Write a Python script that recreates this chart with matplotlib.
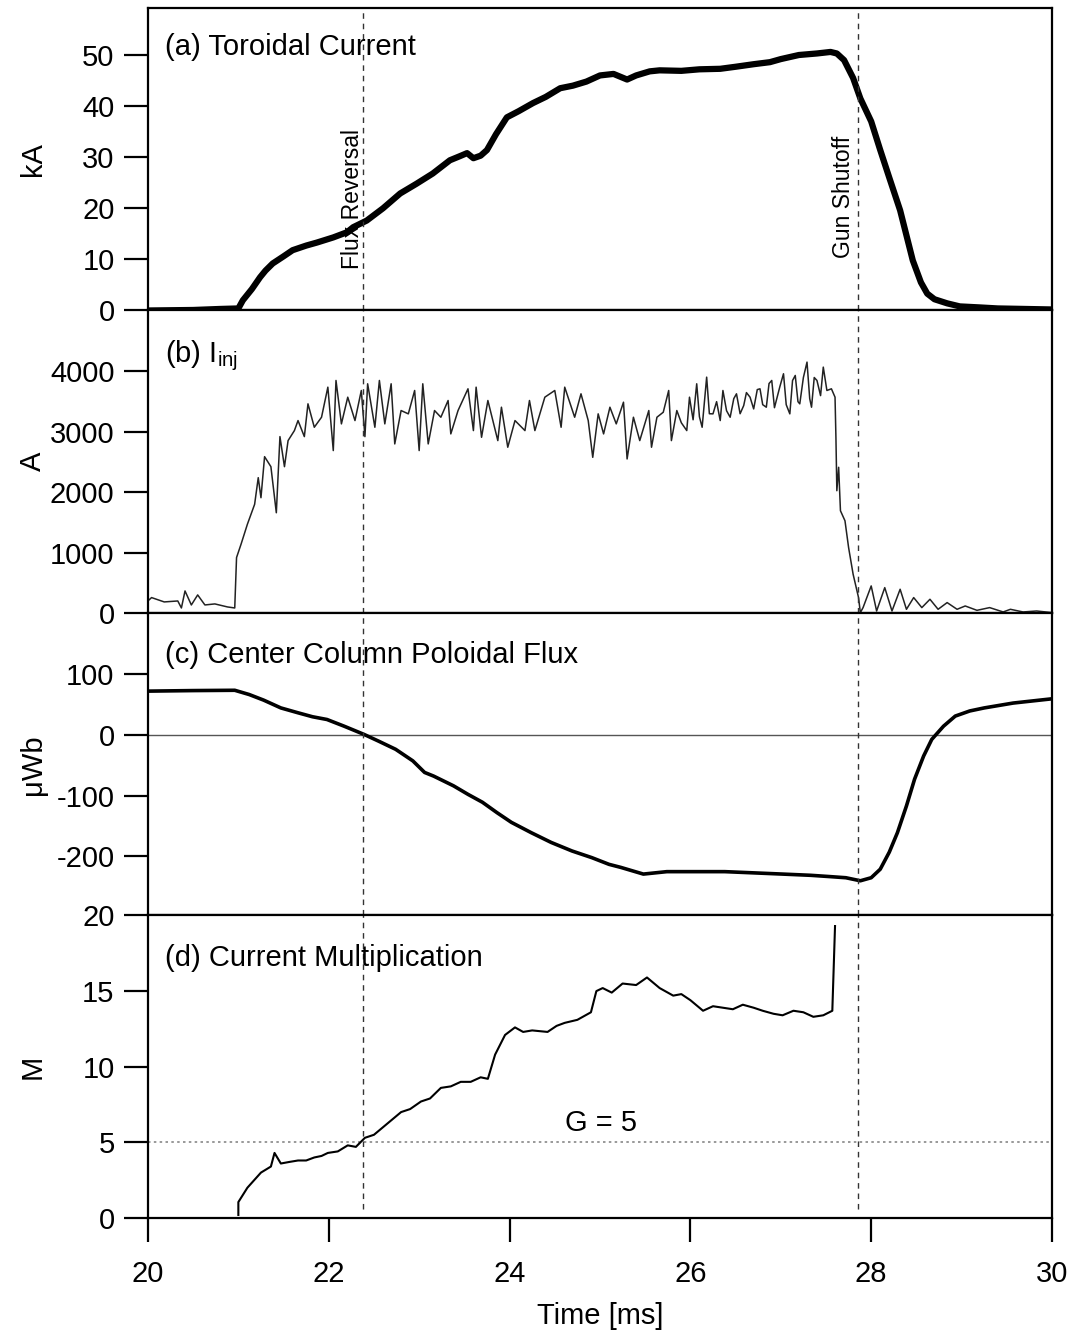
import matplotlib
matplotlib.use('Agg')
import matplotlib.pyplot as plt

plt.rcParams['font.family'] = ['Liberation Sans', 'DejaVu Sans']
plt.rcParams['mathtext.fontset'] = 'custom'
plt.rcParams['mathtext.rm'] = 'Liberation Sans'
plt.rcParams['axes.unicode_minus'] = False

# (a) toroidal current, kA
t_tor = [20.0, 20.5, 20.8, 21.0, 21.05, 21.15, 21.24, 21.3, 21.38, 21.5, 21.6, 21.75,
         21.87, 22.05, 22.2, 22.27, 22.42, 22.6, 22.79, 22.97, 23.15, 23.34, 23.45, 23.53,
         23.6, 23.68, 23.75, 23.85, 23.97, 24.1, 24.26, 24.4, 24.56, 24.7, 24.85, 25.0,
         25.15, 25.3, 25.4, 25.55, 25.66, 25.9, 26.1, 26.33, 26.5, 26.7, 26.88, 27.0,
         27.2, 27.4, 27.55, 27.62, 27.7, 27.8, 27.88, 28.0, 28.1, 28.2, 28.32, 28.4,
         28.46, 28.55, 28.62, 28.7, 28.84, 28.98, 29.2, 29.4, 29.7, 30.0]
i_tor = [0.0, 0.1, 0.3, 0.4, 2.0, 4.2, 6.5, 7.8, 9.2, 10.6, 11.8, 12.7,
         13.3, 14.3, 15.3, 16.3, 17.6, 20.0, 22.9, 24.8, 26.8, 29.4, 30.2, 30.8,
         29.8, 30.3, 31.4, 34.5, 37.8, 39.0, 40.6, 41.8, 43.5, 44.0, 44.8, 46.0,
         46.3, 45.2, 46.0, 46.8, 47.0, 46.9, 47.2, 47.3, 47.7, 48.2, 48.6, 49.2,
         50.0, 50.3, 50.6, 50.3, 49.0, 45.5, 41.5, 37.0, 31.4, 26.0, 19.6, 14.0,
         9.8, 5.5, 3.3, 2.2, 1.4, 0.8, 0.6, 0.4, 0.3, 0.2]

# (b) injector current, A
t_inj = [20.0, 20.04, 20.18, 20.33, 20.37, 20.41, 20.48, 20.55, 20.63, 20.74, 20.88, 20.96,
         20.98, 21.03, 21.1, 21.18, 21.22, 21.25, 21.29, 21.36, 21.42, 21.46, 21.51, 21.55,
         21.62, 21.66, 21.73, 21.77, 21.84, 21.92, 21.99, 22.05, 22.08, 22.14, 22.21, 22.29,
         22.36, 22.4, 22.43, 22.51, 22.56, 22.62, 22.69, 22.73, 22.8, 22.88, 22.95, 23.0,
         23.04, 23.1, 23.17, 23.24, 23.32, 23.35, 23.43, 23.54, 23.6, 23.63, 23.69, 23.76,
         23.87, 23.91, 23.98, 24.06, 24.17, 24.22, 24.28, 24.39, 24.5, 24.57, 24.61, 24.72,
         24.79, 24.87, 24.92, 24.98, 25.04, 25.11, 25.18, 25.26, 25.3, 25.37, 25.44, 25.54,
         25.57, 25.63, 25.7, 25.76, 25.79, 25.85, 25.9, 25.96, 25.99, 26.03, 26.07, 26.1,
         26.13, 26.18, 26.21, 26.25, 26.29, 26.33, 26.36, 26.4, 26.44, 26.48, 26.51, 26.55,
         26.59, 26.62, 26.66, 26.7, 26.74, 26.77, 26.8, 26.84, 26.87, 26.9, 26.93, 26.95,
         26.99, 27.03, 27.06, 27.1, 27.13, 27.16, 27.19, 27.21, 27.25, 27.29, 27.32, 27.34,
         27.37, 27.4, 27.44, 27.47, 27.51, 27.56, 27.6, 27.61, 27.62, 27.64,
         27.66, 27.71, 27.75, 27.8, 27.86, 27.88, 27.91, 28.0, 28.06, 28.15, 28.23, 28.32,
         28.39, 28.47, 28.56, 28.65, 28.74, 28.84, 28.95, 29.04, 29.17, 29.31, 29.46, 29.54,
         29.68, 29.83, 30.0]
i_inj = [200, 255, 183, 199, 83, 365, 133, 299, 133, 150, 100, 83,
         918, 1140, 1470, 1800, 2241, 1909, 2589, 2423, 1660, 2921, 2423, 2855,
         3021, 3187, 2921, 3464, 3076, 3242, 3740, 2690, 3851, 3132, 3574, 3187,
         3685, 2921, 3796, 3076, 3851, 3132, 3796, 2800, 3353, 3298, 3685, 2690,
         3796, 2800, 3353, 3242, 3519, 2966, 3353, 3713, 3021, 3740, 2910, 3519,
         2855, 3408, 2745, 3187, 3021, 3519, 3021, 3574, 3685, 3076, 3740, 3242,
         3630, 3187, 2578, 3298, 2966, 3408, 3132, 3491, 2551, 3242, 2855, 3353,
         2745, 3242, 3325, 3685, 2855, 3353, 3150, 3021, 3574, 3200, 3796, 3250,
         3076, 3906, 3300, 3298, 3500, 3187, 3685, 3350, 3242, 3550, 3630, 3300,
         3436, 3650, 3574, 3380, 3700, 3713, 3450, 3408, 3800, 3851, 3400, 3519,
         3750, 3962, 3450, 3298, 3850, 3934, 3500, 3464, 3900, 4155, 3550, 3408,
         3900, 3851, 3600, 4072, 3685, 3713, 3574, 2900, 2025, 2413,
         1693, 1527, 1084, 642, 255, 6, 89, 448, 33, 420, 33, 393,
         61, 255, 89, 227, 61, 172, 61, 116, 44, 89, 17, 61,
         17, 33, 6]

# (c) center column poloidal flux, uWb
t_flux = [20.0, 20.5, 20.96, 21.12, 21.28, 21.47, 21.66, 21.82, 21.98, 22.17, 22.39, 22.55,
          22.74, 22.93, 23.06, 23.16, 23.38, 23.54, 23.7, 23.86, 24.02, 24.24, 24.46, 24.69,
          24.91, 25.1, 25.23, 25.48, 25.74, 26.38, 27.02, 27.33, 27.53, 27.72, 27.88, 28.0,
          28.1, 28.2, 28.29, 28.39, 28.48, 28.58, 28.67, 28.8, 28.93, 29.09, 29.25, 29.57,
          30.0]
flux = [71.6, 72.5, 73, 66, 56.8, 44, 36, 29.5, 25, 14, 0.5, -10.5,
        -24, -43, -62, -68, -84, -98, -111, -128, -144, -161, -177, -191,
        -202, -213, -218, -229, -225, -225, -229, -231, -233, -235, -240, -235,
        -221, -193, -161, -117, -73, -35, -7.7, 14, 30.6, 39, 44, 52,
        59]

# (d) current multiplication
t_mult = [21.0, 21.0, 21.1, 21.25, 21.36, 21.4, 21.47, 21.56, 21.66, 21.75, 21.84, 21.92,
          21.99, 22.1, 22.21, 22.3, 22.4, 22.5, 22.58, 22.7, 22.8, 22.9, 23.02, 23.12,
          23.24, 23.35, 23.46, 23.57, 23.68, 23.76, 23.84, 23.95, 24.06, 24.15, 24.25, 24.42,
          24.52, 24.61, 24.75, 24.9, 24.96, 25.03, 25.13, 25.25, 25.4, 25.52, 25.66, 25.81,
          25.9, 26.0, 26.14, 26.25, 26.36, 26.47, 26.58, 26.7, 26.8, 26.92, 27.02, 27.14,
          27.25, 27.36, 27.47, 27.57, 27.6]
mult = [0.2, 1.05, 2.0, 3.0, 3.4, 4.3, 3.6, 3.7, 3.8, 3.8, 4.0, 4.1,
        4.3, 4.4, 4.8, 4.7, 5.3, 5.5, 5.9, 6.5, 7.0, 7.2, 7.7, 7.9,
        8.6, 8.7, 9.0, 9.0, 9.3, 9.2, 10.8, 12.1, 12.6, 12.3, 12.4, 12.3,
        12.7, 12.9, 13.1, 13.6, 15.0, 15.2, 14.9, 15.5, 15.4, 15.9, 15.2, 14.7,
        14.8, 14.4, 13.7, 14.0, 13.9, 13.8, 14.1, 13.9, 13.7, 13.5, 13.4, 13.7,
        13.6, 13.3, 13.4, 13.7, 19.3]

t_flux_reversal = 22.38
t_gun_shutoff = 27.85

fig = plt.figure(figsize=(10.76, 13.33), dpi=100)
gs = fig.add_gridspec(4, 1, left=0.1375, right=0.9777, top=0.994, bottom=0.0863, hspace=0)
axes = [fig.add_subplot(gs[i]) for i in range(4)]

fs = 21
dash_style = dict(color='#333333', lw=1.0, linestyle=(0, (4, 3.5)))

for ax in axes:
    ax.set_xlim(20, 30)
    for s in ax.spines.values():
        s.set_linewidth(1.6)
    ax.tick_params(axis='y', direction='out', length=17, width=1.6, pad=7, labelsize=fs)
    ax.tick_params(axis='x', direction='out', length=17, width=1.6, pad=13, labelsize=fs)
    ax.yaxis.set_label_coords(-0.112, 0.5)
    if ax is not axes[-1]:
        ax.tick_params(axis='x', bottom=False, labelbottom=False)

# (a)
ax = axes[0]
ax.plot(t_tor, i_tor, color='black', lw=4.5, solid_joinstyle='round', solid_capstyle='round')
ax.set_ylim(0, 59.2)
ax.set_yticks([0, 10, 20, 30, 40, 50])
ax.set_ylabel('kA', fontsize=fs)
ax.text(0.019, 0.87, '(a) Toroidal Current', transform=ax.transAxes, fontsize=fs, va='center')
ax.text(22.26, 8.2, 'Flux Reversal', rotation=90, ha='center', va='bottom', fontsize=16.5)
ax.text(27.69, 10.2, 'Gun Shutoff', rotation=90, ha='center', va='bottom', fontsize=16.5)

# (b)
ax = axes[1]
ax.plot(t_inj, i_inj, color='#222222', lw=1.1)
ax.set_ylim(0, 5010)
ax.set_yticks([0, 1000, 2000, 3000, 4000])
ax.set_ylabel('A', fontsize=fs)
ax.text(0.019, 0.85, r'(b) I$_{\rm inj}$', transform=ax.transAxes, fontsize=fs, va='center')

# (c)
ax = axes[2]
ax.axhline(0, color='#555555', lw=1.0)
ax.plot(t_flux, flux, color='black', lw=2.6, solid_joinstyle='round')
ax.set_ylim(-297, 200)
ax.set_yticks([-200, -100, 0, 100])
ax.set_ylabel('μWb', fontsize=fs)
ax.text(0.019, 0.86, '(c) Center Column Poloidal Flux', transform=ax.transAxes, fontsize=fs, va='center')

# (d)
ax = axes[3]
ax.axhline(5, color='#888888', lw=1.2, linestyle=(0, (1.5, 2)))
ax.plot(t_mult, mult, color='black', lw=1.5)
ax.set_ylim(0, 20)
ax.set_yticks([0, 5, 10, 15, 20])
ax.set_xticks([20, 22, 24, 26, 28, 30])
ax.set_ylabel('M', fontsize=fs)
ax.set_xlabel('Time [ms]', fontsize=fs, labelpad=10)
ax.text(0.019, 0.86, '(d) Current Multiplication', transform=ax.transAxes, fontsize=fs, va='center')
ax.text(25.01, 5.35, 'G = 5', ha='center', va='bottom', fontsize=fs)

for i, ax in enumerate(axes):
    ymin = 0.03 if i == 3 else 0
    ax.axvline(t_flux_reversal, ymin=ymin, **dash_style)
    ax.axvline(t_gun_shutoff, ymin=ymin, **dash_style)

fig.savefig('out.png', dpi=100)
